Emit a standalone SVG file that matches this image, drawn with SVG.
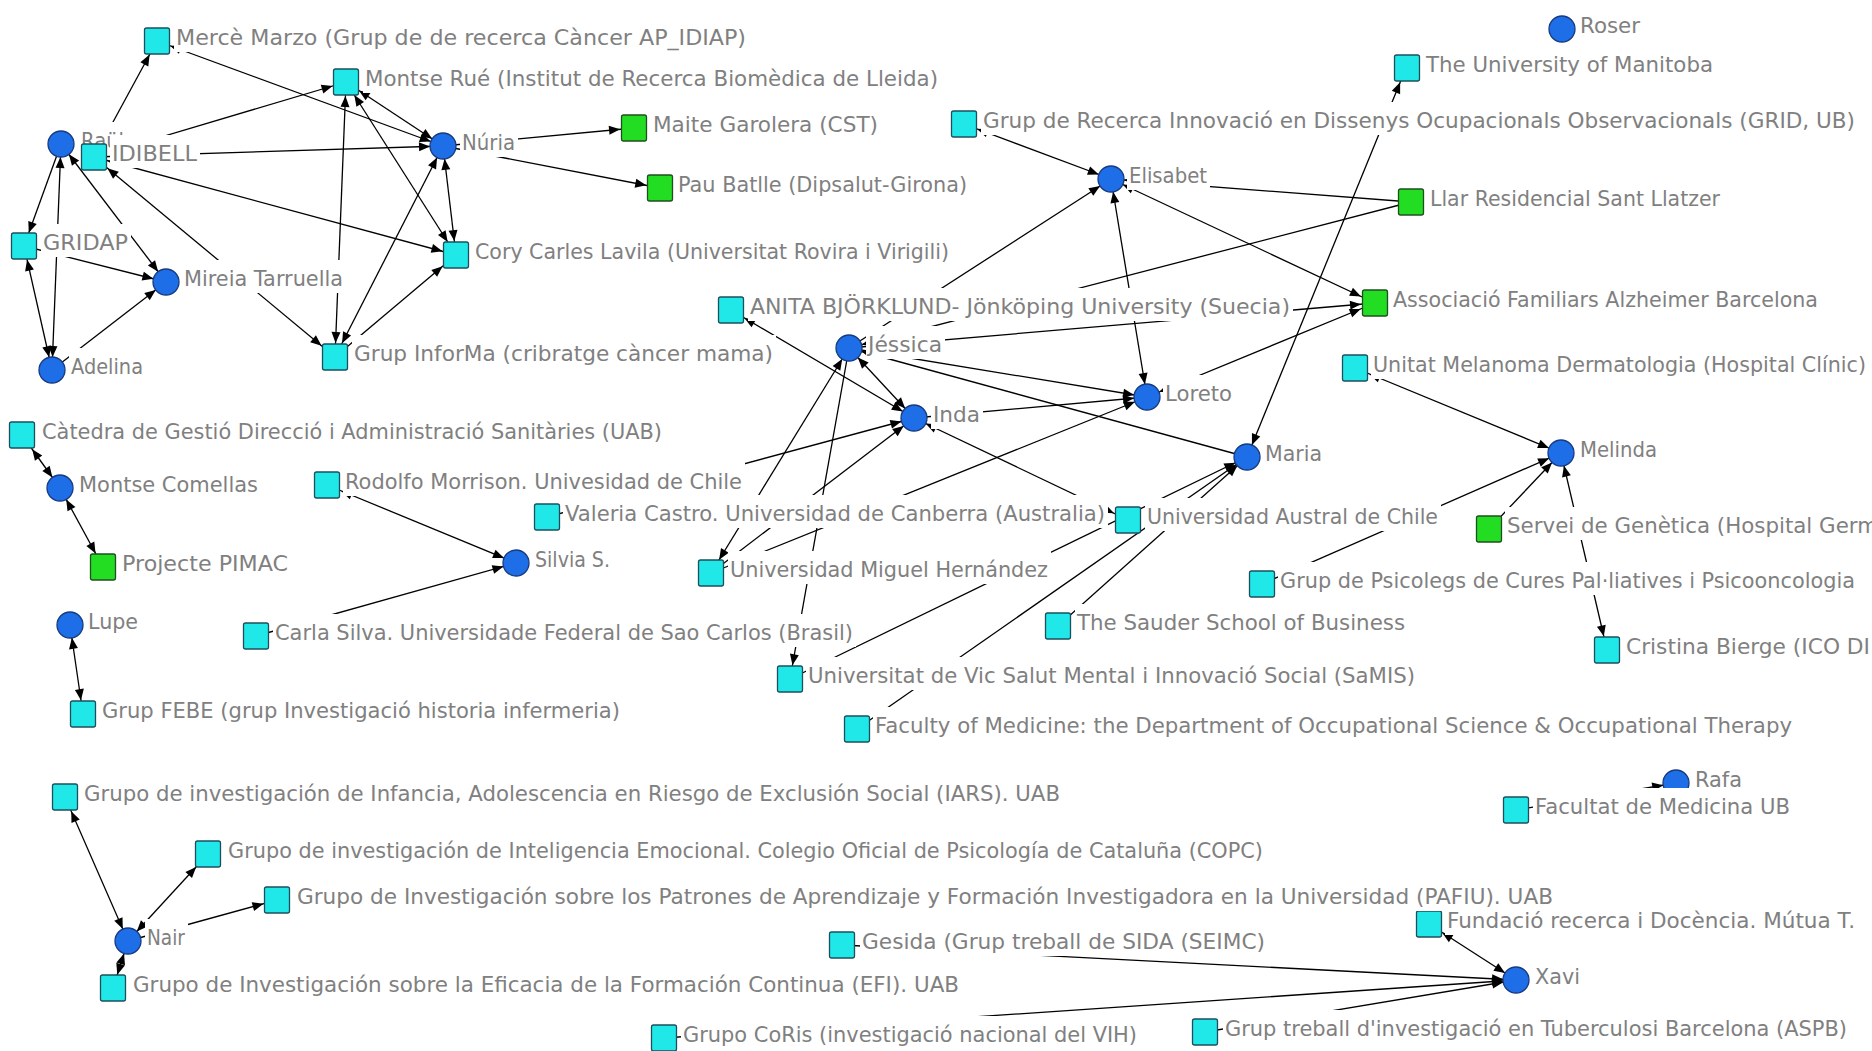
<svg xmlns="http://www.w3.org/2000/svg" width="1872" height="1051" viewBox="0 0 1872 1051">
<style>
.e line{stroke:#000;stroke-width:1.3;fill:none}
.sq{fill:#20e8e8;stroke:#1d4f5c;stroke-width:1.3}
.gr{fill:#22dd22;stroke:#1f4f1f;stroke-width:1.3}
.ci{fill:#1e6ee8;stroke:#173a80;stroke-width:1.3}
.bg{fill:#fff}
text{font-family:"DejaVu Sans","Liberation Sans",sans-serif;font-size:22px;fill:#808080}
</style>
<defs>
<marker id="mc" markerUnits="userSpaceOnUse" orient="auto-start-reverse" overflow="visible" markerWidth="10" markerHeight="10"><path d="M-13,0L-24,-4.5L-24,4.5Z"/></marker>
<marker id="m1" markerUnits="userSpaceOnUse" orient="auto-start-reverse" overflow="visible" markerWidth="10" markerHeight="10"><path d="M-14,0L-25,-4.5L-25,4.5Z"/></marker>
<marker id="m2" markerUnits="userSpaceOnUse" orient="auto-start-reverse" overflow="visible" markerWidth="10" markerHeight="10"><path d="M-15.5,0L-26.5,-4.5L-26.5,4.5Z"/></marker>
<marker id="m3" markerUnits="userSpaceOnUse" orient="auto-start-reverse" overflow="visible" markerWidth="10" markerHeight="10"><path d="M-17.5,0L-28.5,-4.5L-28.5,4.5Z"/></marker>
</defs>
<rect width="1872" height="1051" fill="#fff"/>
<g id="connectors" class="e">
<line x1="94" y1="157" x2="157" y2="41" marker-end="url(#m2)"/>
<line x1="94" y1="157" x2="346" y2="82" marker-end="url(#m1)"/>
<line x1="94" y1="157" x2="443" y2="146" marker-end="url(#mc)"/>
<line x1="157" y1="41" x2="443" y2="146" marker-start="url(#m1)" marker-end="url(#mc)"/>
<line x1="346" y1="82" x2="443" y2="146" marker-start="url(#m2)" marker-end="url(#mc)"/>
<line x1="346" y1="82" x2="335" y2="357" marker-start="url(#m1)" marker-end="url(#m1)"/>
<line x1="443" y1="146" x2="335" y2="357" marker-start="url(#mc)" marker-end="url(#m2)"/>
<line x1="346" y1="82" x2="456" y2="255" marker-start="url(#m2)" marker-end="url(#m2)"/>
<line x1="443" y1="146" x2="456" y2="255" marker-start="url(#mc)" marker-end="url(#m1)"/>
<line x1="94" y1="157" x2="456" y2="255" marker-start="url(#m1)" marker-end="url(#m1)"/>
<line x1="335" y1="357" x2="94" y2="157" marker-start="url(#m3)" marker-end="url(#m3)"/>
<line x1="61" y1="144" x2="24" y2="246" marker-end="url(#m1)"/>
<line x1="61" y1="144" x2="52" y2="370" marker-start="url(#mc)" marker-end="url(#mc)"/>
<line x1="24" y1="246" x2="52" y2="370" marker-start="url(#m1)" marker-end="url(#mc)"/>
<line x1="24" y1="246" x2="166" y2="282" marker-end="url(#mc)"/>
<line x1="61" y1="144" x2="166" y2="282" marker-start="url(#mc)" marker-end="url(#mc)"/>
<line x1="52" y1="370" x2="166" y2="282" marker-end="url(#mc)"/>
<line x1="335" y1="357" x2="456" y2="255" marker-end="url(#m3)"/>
<line x1="443" y1="146" x2="634" y2="128" marker-end="url(#m1)"/>
<line x1="443" y1="146" x2="660" y2="188" marker-end="url(#m1)"/>
<line x1="22" y1="435" x2="60" y2="488" marker-start="url(#m3)" marker-end="url(#mc)"/>
<line x1="60" y1="488" x2="103" y2="567" marker-start="url(#mc)" marker-end="url(#m2)"/>
<line x1="70" y1="625" x2="83" y2="714" marker-start="url(#mc)" marker-end="url(#m1)"/>
<line x1="327" y1="485" x2="516" y2="563" marker-start="url(#m2)" marker-end="url(#mc)"/>
<line x1="256" y1="636" x2="516" y2="563" marker-end="url(#mc)"/>
<line x1="547" y1="517" x2="914" y2="418" marker-end="url(#mc)"/>
<line x1="914" y1="418" x2="731" y2="310" marker-start="url(#mc)" marker-end="url(#m2)"/>
<line x1="849" y1="348" x2="914" y2="418" marker-start="url(#mc)" marker-end="url(#mc)"/>
<line x1="849" y1="348" x2="711" y2="573" marker-start="url(#mc)" marker-end="url(#m2)"/>
<line x1="849" y1="348" x2="790" y2="679" marker-end="url(#m1)"/>
<line x1="711" y1="573" x2="914" y2="418" marker-end="url(#mc)"/>
<line x1="711" y1="573" x2="1147" y2="397" marker-end="url(#mc)"/>
<line x1="849" y1="348" x2="1147" y2="397" marker-end="url(#mc)"/>
<line x1="914" y1="418" x2="1147" y2="397" marker-end="url(#mc)"/>
<line x1="1247" y1="457" x2="849" y2="348" marker-end="url(#mc)"/>
<line x1="914" y1="418" x2="1128" y2="520" marker-start="url(#mc)" marker-end="url(#m2)"/>
<line x1="790" y1="679" x2="1247" y2="457" marker-end="url(#mc)"/>
<line x1="857" y1="729" x2="1247" y2="457" marker-end="url(#mc)"/>
<line x1="1058" y1="626" x2="1247" y2="457" marker-end="url(#mc)"/>
<line x1="1406" y1="68" x2="1247" y2="457" marker-start="url(#m2)" marker-end="url(#mc)"/>
<line x1="849" y1="348" x2="1111" y2="179" marker-end="url(#mc)"/>
<line x1="1147" y1="397" x2="1111" y2="179" marker-start="url(#mc)" marker-end="url(#mc)"/>
<line x1="964" y1="124" x2="1111" y2="179" marker-start="url(#m1)" marker-end="url(#mc)"/>
<line x1="1111" y1="179" x2="1375" y2="303" marker-start="url(#mc)" marker-end="url(#m2)"/>
<line x1="1411" y1="202" x2="1111" y2="179" marker-end="url(#mc)"/>
<line x1="1411" y1="202" x2="849" y2="348" marker-end="url(#mc)"/>
<line x1="849" y1="348" x2="1375" y2="303" marker-end="url(#m1)"/>
<line x1="1147" y1="397" x2="1375" y2="303" marker-start="url(#mc)" marker-end="url(#m2)"/>
<line x1="1355" y1="368" x2="1561" y2="453" marker-start="url(#m2)" marker-end="url(#mc)"/>
<line x1="1262" y1="584" x2="1561" y2="453" marker-end="url(#mc)"/>
<line x1="1489" y1="529" x2="1561" y2="453" marker-end="url(#mc)"/>
<line x1="1561" y1="453" x2="1607" y2="650" marker-start="url(#mc)" marker-end="url(#m1)"/>
<line x1="1516" y1="810" x2="1676" y2="783" marker-end="url(#mc)"/>
<line x1="1429" y1="924" x2="1516" y2="980" marker-start="url(#m2)" marker-end="url(#mc)"/>
<line x1="842" y1="945" x2="1516" y2="980" marker-end="url(#mc)"/>
<line x1="664" y1="1038" x2="1516" y2="980" marker-end="url(#mc)"/>
<line x1="1205" y1="1032" x2="1516" y2="980" marker-end="url(#mc)"/>
<line x1="65" y1="797" x2="128" y2="941" marker-start="url(#m2)" marker-end="url(#mc)"/>
<line x1="128" y1="941" x2="208" y2="854" marker-start="url(#mc)" marker-end="url(#m3)"/>
<line x1="128" y1="941" x2="277" y2="900" marker-end="url(#m1)"/>
<line x1="128" y1="941" x2="113" y2="988" marker-start="url(#mc)" marker-end="url(#m1)"/>
</g>
<g id="n-raul"><circle class="ci" cx="61" cy="144" r="13"/><rect class="bg" x="79" y="122" width="48" height="33"/><text x="81" y="148" textLength="43" lengthAdjust="spacingAndGlyphs">Raül</text></g>
<g id="n-idibell"><rect class="sq" x="81.5" y="144" width="25" height="26" rx="2"/><rect class="bg" x="110" y="135" width="90" height="33"/><text x="112" y="161" textLength="85" lengthAdjust="spacingAndGlyphs">IDIBELL</text></g>
<g id="n-merce"><rect class="sq" x="144.5" y="28" width="25" height="26" rx="2"/><rect class="bg" x="174" y="19" width="575" height="33"/><text x="176" y="45" textLength="570" lengthAdjust="spacingAndGlyphs">Mercè Marzo (Grup de de recerca Càncer AP_IDIAP)</text></g>
<g id="n-montserue"><rect class="sq" x="333.5" y="69" width="25" height="26" rx="2"/><rect class="bg" x="363" y="60" width="578" height="33"/><text x="365" y="86" textLength="573" lengthAdjust="spacingAndGlyphs">Montse Rué (Institut de Recerca Biomèdica de Lleida)</text></g>
<g id="n-nuria"><circle class="ci" cx="443" cy="146" r="13"/><rect class="bg" x="460" y="124" width="58" height="33"/><text x="462" y="150" textLength="53" lengthAdjust="spacingAndGlyphs">Núria</text></g>
<g id="n-gridap"><rect class="sq" x="11.5" y="233" width="25" height="26" rx="2"/><rect class="bg" x="41" y="224" width="90" height="33"/><text x="43" y="250" textLength="85" lengthAdjust="spacingAndGlyphs">GRIDAP</text></g>
<g id="n-mireia"><circle class="ci" cx="166" cy="282" r="13"/><rect class="bg" x="182" y="260" width="164" height="33"/><text x="184" y="286" textLength="159" lengthAdjust="spacingAndGlyphs">Mireia Tarruella</text></g>
<g id="n-cory"><rect class="sq" x="443.5" y="242" width="25" height="26" rx="2"/><rect class="bg" x="473" y="233" width="479" height="33"/><text x="475" y="259" textLength="474" lengthAdjust="spacingAndGlyphs">Cory Carles Lavila (Universitat Rovira i Virigili)</text></g>
<g id="n-informa"><rect class="sq" x="322.5" y="344" width="25" height="26" rx="2"/><rect class="bg" x="352" y="335" width="424" height="33"/><text x="354" y="361" textLength="419" lengthAdjust="spacingAndGlyphs">Grup InforMa (cribratge càncer mama)</text></g>
<g id="n-adelina"><circle class="ci" cx="52" cy="370" r="13"/><rect class="bg" x="69" y="348" width="77" height="33"/><text x="71" y="374" textLength="72" lengthAdjust="spacingAndGlyphs">Adelina</text></g>
<g id="n-maite"><rect class="gr" x="621.5" y="115" width="25" height="26" rx="2"/><rect class="bg" x="651" y="106" width="230" height="33"/><text x="653" y="132" textLength="225" lengthAdjust="spacingAndGlyphs">Maite Garolera (CST)</text></g>
<g id="n-pau"><rect class="gr" x="647.5" y="175" width="25" height="26" rx="2"/><rect class="bg" x="676" y="166" width="294" height="33"/><text x="678" y="192" textLength="289" lengthAdjust="spacingAndGlyphs">Pau Batlle (Dipsalut-Girona)</text></g>
<g id="n-catedra"><rect class="sq" x="9.5" y="422" width="25" height="26" rx="2"/><rect class="bg" x="40" y="413" width="625" height="33"/><text x="42" y="439" textLength="620" lengthAdjust="spacingAndGlyphs">Càtedra de Gestió Direcció i Administració Sanitàries (UAB)</text></g>
<g id="n-comellas"><circle class="ci" cx="60" cy="488" r="13"/><rect class="bg" x="77" y="466" width="184" height="33"/><text x="79" y="492" textLength="179" lengthAdjust="spacingAndGlyphs">Montse Comellas</text></g>
<g id="n-pimac"><rect class="gr" x="90.5" y="554" width="25" height="26" rx="2"/><rect class="bg" x="120" y="545" width="171" height="33"/><text x="122" y="571" textLength="166" lengthAdjust="spacingAndGlyphs">Projecte PIMAC</text></g>
<g id="n-lupe"><circle class="ci" cx="70" cy="625" r="13"/><rect class="bg" x="86" y="603" width="55" height="33"/><text x="88" y="629" textLength="50" lengthAdjust="spacingAndGlyphs">Lupe</text></g>
<g id="n-febe"><rect class="sq" x="70.5" y="701" width="25" height="26" rx="2"/><rect class="bg" x="100" y="692" width="523" height="33"/><text x="102" y="718" textLength="518" lengthAdjust="spacingAndGlyphs">Grup FEBE (grup Investigació historia infermeria)</text></g>
<g id="n-rodolfo"><rect class="sq" x="314.5" y="472" width="25" height="26" rx="2"/><rect class="bg" x="343" y="463" width="402" height="33"/><text x="345" y="489" textLength="397" lengthAdjust="spacingAndGlyphs">Rodolfo Morrison. Univesidad de Chile</text></g>
<g id="n-silvia"><circle class="ci" cx="516" cy="563" r="13"/><rect class="bg" x="533" y="541" width="80" height="33"/><text x="535" y="567" textLength="75" lengthAdjust="spacingAndGlyphs">Silvia S.</text></g>
<g id="n-carla"><rect class="sq" x="243.5" y="623" width="25" height="26" rx="2"/><rect class="bg" x="273" y="614" width="583" height="33"/><text x="275" y="640" textLength="578" lengthAdjust="spacingAndGlyphs">Carla Silva. Universidade Federal de Sao Carlos (Brasil)</text></g>
<g id="n-valeria"><rect class="sq" x="534.5" y="504" width="25" height="26" rx="2"/><rect class="bg" x="563" y="495" width="545" height="33"/><text x="565" y="521" textLength="540" lengthAdjust="spacingAndGlyphs">Valeria Castro. Universidad de Canberra (Australia)</text></g>
<g id="n-miguel"><rect class="sq" x="698.5" y="560" width="25" height="26" rx="2"/><rect class="bg" x="728" y="551" width="323" height="33"/><text x="730" y="577" textLength="318" lengthAdjust="spacingAndGlyphs">Universidad Miguel Hernández</text></g>
<g id="n-vic"><rect class="sq" x="777.5" y="666" width="25" height="26" rx="2"/><rect class="bg" x="806" y="657" width="612" height="33"/><text x="808" y="683" textLength="607" lengthAdjust="spacingAndGlyphs">Universitat de Vic Salut Mental i Innovació Social (SaMIS)</text></g>
<g id="n-anita"><rect class="sq" x="718.5" y="297" width="25" height="26" rx="2"/><rect class="bg" x="748" y="288" width="545" height="33"/><text x="750" y="314" textLength="540" lengthAdjust="spacingAndGlyphs">ANITA BJÖRKLUND- Jönköping University (Suecia)</text></g>
<g id="n-jessica"><circle class="ci" cx="849" cy="348" r="13"/><rect class="bg" x="866" y="326" width="79" height="33"/><text x="868" y="352" textLength="74" lengthAdjust="spacingAndGlyphs">Jéssica</text></g>
<g id="n-inda"><circle class="ci" cx="914" cy="418" r="13"/><rect class="bg" x="931" y="396" width="52" height="33"/><text x="933" y="422" textLength="47" lengthAdjust="spacingAndGlyphs">Inda</text></g>
<g id="n-loreto"><circle class="ci" cx="1147" cy="397" r="13"/><rect class="bg" x="1163" y="375" width="72" height="33"/><text x="1165" y="401" textLength="67" lengthAdjust="spacingAndGlyphs">Loreto</text></g>
<g id="n-maria"><circle class="ci" cx="1247" cy="457" r="13"/><rect class="bg" x="1263" y="435" width="62" height="33"/><text x="1265" y="461" textLength="57" lengthAdjust="spacingAndGlyphs">Maria</text></g>
<g id="n-austral"><rect class="sq" x="1115.5" y="507" width="25" height="26" rx="2"/><rect class="bg" x="1145" y="498" width="296" height="33"/><text x="1147" y="524" textLength="291" lengthAdjust="spacingAndGlyphs">Universidad Austral de Chile</text></g>
<g id="n-sauder"><rect class="sq" x="1045.5" y="613" width="25" height="26" rx="2"/><rect class="bg" x="1075" y="604" width="333" height="33"/><text x="1077" y="630" textLength="328" lengthAdjust="spacingAndGlyphs">The Sauder School of Business</text></g>
<g id="n-psicolegs"><rect class="sq" x="1249.5" y="571" width="25" height="26" rx="2"/><rect class="bg" x="1278" y="562" width="580" height="33"/><text x="1280" y="588" textLength="575" lengthAdjust="spacingAndGlyphs">Grup de Psicolegs de Cures Pal·liatives i Psicooncologia</text></g>
<g id="n-faculty"><rect class="sq" x="844.5" y="716" width="25" height="26" rx="2"/><rect class="bg" x="873" y="707" width="922" height="33"/><text x="875" y="733" textLength="917" lengthAdjust="spacingAndGlyphs">Faculty of Medicine: the Department of Occupational Science &amp; Occupational Therapy</text></g>
<g id="n-grid"><rect class="sq" x="951.5" y="111" width="25" height="26" rx="2"/><rect class="bg" x="981" y="102" width="877" height="33"/><text x="983" y="128" textLength="872" lengthAdjust="spacingAndGlyphs">Grup de Recerca Innovació en Dissenys Ocupacionals Observacionals (GRID, UB)</text></g>
<g id="n-elisabet"><circle class="ci" cx="1111" cy="179" r="13"/><rect class="bg" x="1127" y="157" width="83" height="33"/><text x="1129" y="183" textLength="78" lengthAdjust="spacingAndGlyphs">Elisabet</text></g>
<g id="n-manitoba"><rect class="sq" x="1394.5" y="55" width="25" height="26" rx="2"/><rect class="bg" x="1424" y="46" width="292" height="33"/><text x="1426" y="72" textLength="287" lengthAdjust="spacingAndGlyphs">The University of Manitoba</text></g>
<g id="n-roser"><circle class="ci" cx="1562" cy="29" r="13"/><rect class="bg" x="1578" y="7" width="65" height="33"/><text x="1580" y="33" textLength="60" lengthAdjust="spacingAndGlyphs">Roser</text></g>
<g id="n-llar"><rect class="gr" x="1398.5" y="189" width="25" height="26" rx="2"/><rect class="bg" x="1428" y="180" width="295" height="33"/><text x="1430" y="206" textLength="290" lengthAdjust="spacingAndGlyphs">Llar Residencial Sant Llatzer</text></g>
<g id="n-associacio"><rect class="gr" x="1362.5" y="290" width="25" height="26" rx="2"/><rect class="bg" x="1391" y="281" width="430" height="33"/><text x="1393" y="307" textLength="425" lengthAdjust="spacingAndGlyphs">Associació Familiars Alzheimer Barcelona</text></g>
<g id="n-melanoma"><rect class="sq" x="1342.5" y="355" width="25" height="26" rx="2"/><rect class="bg" x="1371" y="346" width="498" height="33"/><text x="1373" y="372" textLength="493" lengthAdjust="spacingAndGlyphs">Unitat Melanoma Dermatologia (Hospital Clínic)</text></g>
<g id="n-melinda"><circle class="ci" cx="1561" cy="453" r="13"/><rect class="bg" x="1578" y="431" width="82" height="33"/><text x="1580" y="457" textLength="77" lengthAdjust="spacingAndGlyphs">Melinda</text></g>
<g id="n-servei"><rect class="gr" x="1476.5" y="516" width="25" height="26" rx="2"/><rect class="bg" x="1505" y="507" width="370" height="33"/><text x="1507" y="533" textLength="371" lengthAdjust="spacingAndGlyphs">Servei de Genètica (Hospital Germ</text></g>
<g id="n-cristina"><rect class="sq" x="1594.5" y="637" width="25" height="26" rx="2"/><rect class="bg" x="1624" y="628" width="250" height="33"/><text x="1626" y="654" textLength="244" lengthAdjust="spacingAndGlyphs">Cristina Bierge (ICO DI</text></g>
<g id="n-rafa"><circle class="ci" cx="1676" cy="783" r="13"/><rect class="bg" x="1693" y="761" width="52" height="33"/><text x="1695" y="787" textLength="47" lengthAdjust="spacingAndGlyphs">Rafa</text></g>
<g id="n-facultat"><rect class="sq" x="1503.5" y="797" width="25" height="26" rx="2"/><rect class="bg" x="1533" y="788" width="260" height="33"/><text x="1535" y="814" textLength="255" lengthAdjust="spacingAndGlyphs">Facultat de Medicina UB</text></g>
<g id="n-fundacio"><rect class="sq" x="1416.5" y="911" width="25" height="26" rx="2"/><rect class="bg" x="1445" y="902" width="413" height="33"/><text x="1447" y="928" textLength="408" lengthAdjust="spacingAndGlyphs">Fundació recerca i Docència. Mútua T.</text></g>
<g id="n-xavi"><circle class="ci" cx="1516" cy="980" r="13"/><rect class="bg" x="1533" y="958" width="50" height="33"/><text x="1535" y="984" textLength="45" lengthAdjust="spacingAndGlyphs">Xavi</text></g>
<g id="n-tuberculosi"><rect class="sq" x="1192.5" y="1019" width="25" height="26" rx="2"/><rect class="bg" x="1223" y="1010" width="627" height="33"/><text x="1225" y="1036" textLength="622" lengthAdjust="spacingAndGlyphs">Grup treball d'investigació en Tuberculosi Barcelona (ASPB)</text></g>
<g id="n-gesida"><rect class="sq" x="829.5" y="932" width="25" height="26" rx="2"/><rect class="bg" x="860" y="923" width="408" height="33"/><text x="862" y="949" textLength="403" lengthAdjust="spacingAndGlyphs">Gesida (Grup treball de SIDA (SEIMC)</text></g>
<g id="n-coris"><rect class="sq" x="651.5" y="1025" width="25" height="26" rx="2"/><rect class="bg" x="681" y="1016" width="459" height="33"/><text x="683" y="1042" textLength="454" lengthAdjust="spacingAndGlyphs">Grupo CoRis (investigació nacional del VIH)</text></g>
<g id="n-iars"><rect class="sq" x="52.5" y="784" width="25" height="26" rx="2"/><rect class="bg" x="82" y="775" width="981" height="33"/><text x="84" y="801" textLength="976" lengthAdjust="spacingAndGlyphs">Grupo de investigación de Infancia, Adolescencia en Riesgo de Exclusión Social (IARS). UAB</text></g>
<g id="n-inteligencia"><rect class="sq" x="195.5" y="841" width="25" height="26" rx="2"/><rect class="bg" x="226" y="832" width="1040" height="33"/><text x="228" y="858" textLength="1035" lengthAdjust="spacingAndGlyphs">Grupo de investigación de Inteligencia Emocional. Colegio Oficial de Psicología de Cataluña (COPC)</text></g>
<g id="n-patrones"><rect class="sq" x="264.5" y="887" width="25" height="26" rx="2"/><rect class="bg" x="295" y="878" width="1261" height="33"/><text x="297" y="904" textLength="1256" lengthAdjust="spacingAndGlyphs">Grupo de Investigación sobre los Patrones de Aprendizaje y Formación Investigadora en la Universidad (PAFIU). UAB</text></g>
<g id="n-nair"><circle class="ci" cx="128" cy="941" r="13"/><rect class="bg" x="145" y="919" width="43" height="33"/><text x="147" y="945" textLength="38" lengthAdjust="spacingAndGlyphs">Nair</text></g>
<g id="n-eficacia"><rect class="sq" x="100.5" y="975" width="25" height="26" rx="2"/><rect class="bg" x="131" y="966" width="831" height="33"/><text x="133" y="992" textLength="826" lengthAdjust="spacingAndGlyphs">Grupo de Investigación sobre la Eficacia de la Formación Continua (EFI). UAB</text></g>
</svg>
